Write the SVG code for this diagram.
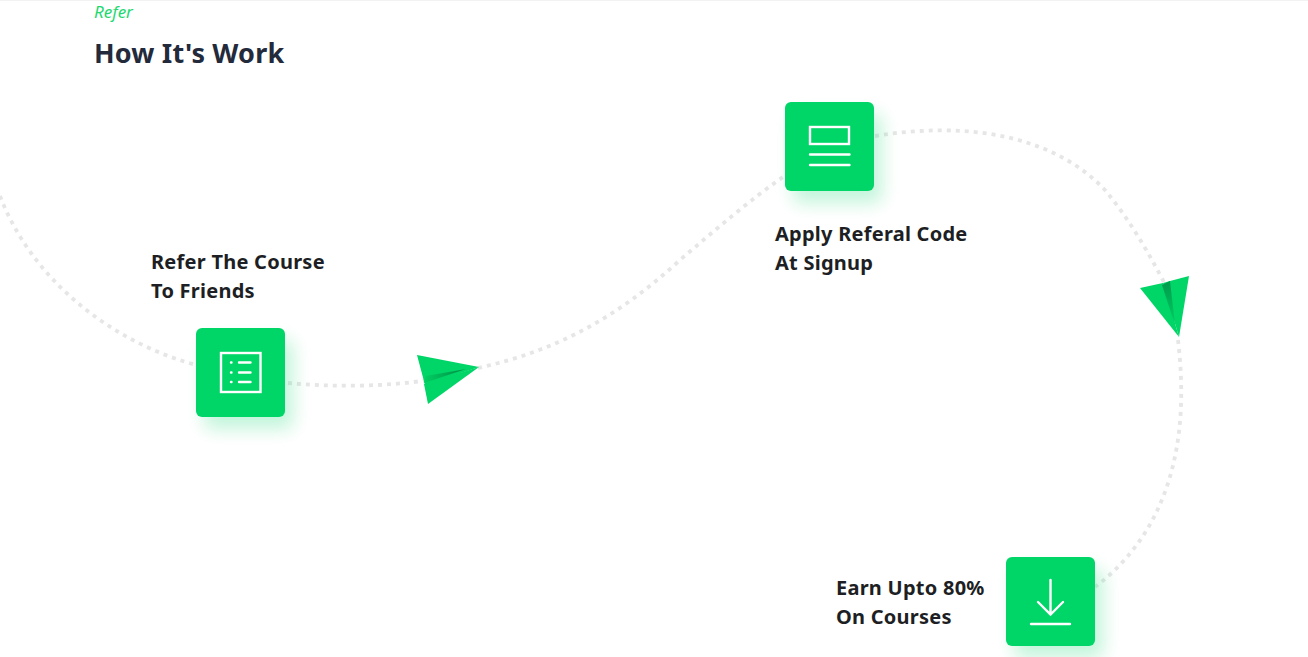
<svg xmlns="http://www.w3.org/2000/svg" width="1308" height="657" viewBox="0 0 1308 657">
<defs>
<filter id="glow" x="-50%" y="-50%" width="200%" height="200%"><feGaussianBlur stdDeviation="9"/></filter>
<linearGradient id="fold1" x1="0" y1="0" x2="1" y2="0"><stop offset="0" stop-color="#00cf62"/><stop offset="1" stop-color="#008a44"/></linearGradient>
<linearGradient id="fold2" x1="0" y1="0" x2="0" y2="1"><stop offset="0" stop-color="#009a4c"/><stop offset="1" stop-color="#00cf62"/></linearGradient>
</defs>
<style>
.conn{fill:none;stroke:#e6e6e6;stroke-width:3.8;stroke-dasharray:4 5}
.box{fill:#00d567}
.shadow{fill:#00d567;opacity:.24;filter:url(#glow)}
.ico{fill:none;stroke:#fff;stroke-width:2.400;stroke-linecap:round}
.lbl{font-family:"Noto Sans","Open Sans",sans-serif;font-weight:700;font-size:20px;letter-spacing:.25px;fill:#1d1f24}
.plane{fill:#00d567}
</style>
<rect width="1308" height="657" fill="#fff"/>
<rect width="1308" height="1" fill="#f2f2f2"/>
<g id="connectors">
<path class="conn" d="M0 196C30 275 105 340 196 365"/>
<path class="conn" d="M288 383C330 387 385 387 428 380"/>
<path class="conn" d="M478 368C560 350 620 315 680 260C715 230 750 200 783 177"/>
<path class="conn" d="M875 136C960 122 1050 132 1105 190C1130 220 1150 255 1168 290"/>
<path class="conn" d="M1178 340C1190 440 1170 530 1095 587"/>
</g>
<g id="header">
<text x="94" y="18" font-family="'Noto Sans','Open Sans',sans-serif" font-style="italic" font-size="17" fill="#1fd870">Refer</text>
<text x="94" y="63" font-family="'Noto Sans','Open Sans',sans-serif" font-weight="700" font-size="27" letter-spacing=".17" fill="#232a3b">How It's Work</text>
</g>
<g id="node-refer">
<rect class="shadow" x="204" y="340" width="89" height="89" rx="6"/>
<rect class="box" x="196" y="328" width="89" height="89" rx="6"/>
<rect x="221" y="353" width="39.500" height="39" fill="none" stroke="#fff" stroke-width="2.400"/>
<path class="ico" d="M239 362.500H250.500M239 372.500H250.500M239 382H250.500M231 362.500h.5M231 372.500h.5M231 382h.5"/>
<text class="lbl" x="151" y="269">Refer The Course</text>
<text class="lbl" x="151" y="298">To Friends</text>
</g>
<g id="node-apply">
<rect class="shadow" x="793" y="114" width="89" height="89" rx="6"/>
<rect class="box" x="785" y="102" width="89" height="89" rx="6"/>
<rect x="810" y="127" width="39" height="17" fill="none" stroke="#fff" stroke-width="2.400"/>
<path class="ico" d="M810 154.500H849.500M810 165H849.500"/>
<text class="lbl" x="775" y="241">Apply Referal Code</text>
<text class="lbl" x="775" y="270">At Signup</text>
</g>
<g id="node-earn">
<rect class="shadow" x="1014" y="569" width="89" height="89" rx="6"/>
<rect class="box" x="1006" y="557" width="89" height="89" rx="6"/>
<path class="ico" d="M1050.500 580V614.500M1038 602L1050.500 614.500L1063 602M1031 624H1070"/>
<text class="lbl" x="836" y="595">Earn Upto 80%</text>
<text class="lbl" x="836" y="624">On Courses</text>
</g>
<g id="plane-1">
<path class="plane" d="M417 355L479 367L425 385Z"/>
<path class="plane" d="M479 367L428 404L424 384Z"/>
<path fill="url(#fold1)" d="M426 376L466 369L424 383Z"/>
</g>
<g id="plane-2">
<path class="plane" d="M1140 288L1163 283L1179 337Z"/>
<path class="plane" d="M1189 276L1179 337L1163 283L1170 281Z"/>
<path fill="url(#fold2)" d="M1162 285L1170 281L1175 325Z"/>
</g>
</svg>
